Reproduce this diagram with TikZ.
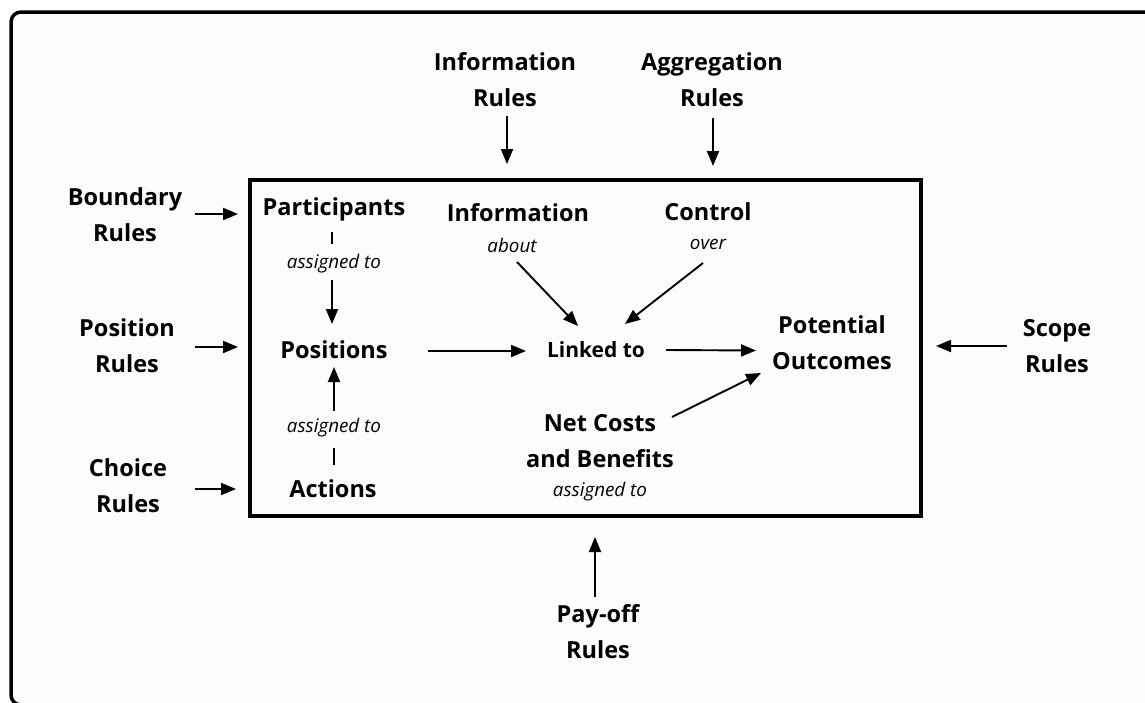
\documentclass[tikz,border=0pt]{standalone}
\usepackage{fontspec}
\setmainfont{Open Sans}
\usetikzlibrary{arrows.meta}
\definecolor{paper}{RGB}{253,251,251}
\tikzset{
  lbl/.style={font=\bfseries\fontsize{23.5}{36}\selectfont, align=center, inner sep=0pt},
  sub/.style={font=\itshape\fontsize{18.8}{22}\selectfont, inner sep=0pt},
  arr/.style={line width=1.9pt, -{Triangle[length=15pt,width=12pt]}},
  tick/.style={line width=1.9pt},
  frame/.style={line width=3.5pt, rounded corners=10pt},
  box/.style={line width=4pt}
}
\begin{document}
\begin{tikzpicture}[x=1pt,y=-1pt]
\useasboundingbox (0,0) rectangle (1145,702);
\clip (0,0) rectangle (1145,702);
\fill[white] (0,0) rectangle (1145,702);
\draw[frame, fill=paper] (11,12) rectangle (1175,705);
\draw[box] (249.5,179.5) rectangle (921,516);

% outer rule labels
\node[lbl] (inforules) at (505,80) {Information\\Rules};
\node[lbl] (aggrules) at (712,80) {Aggregation\\Rules};
\node[lbl] (boundary) at (125,215) {Boundary\\Rules};
\node[lbl] (position) at (127,346) {Position\\Rules};
\node[lbl] (choice) at (128,486) {Choice\\Rules};
\node[lbl] (scope) at (1057,346) {Scope\\Rules};
\node[lbl] (payoff) at (598,632) {Pay-off\\Rules};

% inner labels
\node[lbl] (participants) at (334,209) {Participants};
\node[sub] (asg1) at (334,264) {assigned to};
\node[lbl] (positions) at (334,350) {Positions};
\node[sub] (asg2) at (334,428) {assigned to};
\node[lbl] (actions) at (333,489) {Actions};
\node[lbl] (information) at (518,213) {Information};
\node[sub] (about) at (512,245) {about};
\node[lbl] (control) at (708,212) {Control};
\node[sub] (over) at (708,244) {over};
\node[lbl, font=\bfseries\fontsize{21}{26}\selectfont] (linked) at (596,350) {Linked to};
\node[lbl] (potential) at (832,343) {Potential\\Outcomes};
\node[lbl] (netcosts) at (600,441) {Net Costs\\and Benefits};
\node[sub] (asg3) at (600,492) {assigned to};

% connector end points
\coordinate (ir1) at (507,116); \coordinate (ir2) at (507,164);
\coordinate (ar1) at (713,118); \coordinate (ar2) at (713,166);
\coordinate (b1) at (195,214); \coordinate (b2) at (238,214);
\coordinate (p1) at (195,347); \coordinate (p2) at (238,347);
\coordinate (c1) at (195,489); \coordinate (c2) at (236,489);
\coordinate (s1) at (1007,346); \coordinate (s2) at (936,346);
\coordinate (y1) at (595,597); \coordinate (y2) at (595,537);
\coordinate (t1a) at (332,232); \coordinate (t1b) at (332,244);
\coordinate (a1a) at (332,280); \coordinate (a1b) at (332,324);
\coordinate (t2a) at (334,448); \coordinate (t2b) at (334,465);
\coordinate (a2a) at (334,411); \coordinate (a2b) at (334,367);
\coordinate (pl1) at (428,351); \coordinate (pl2) at (526,351);
\coordinate (il1) at (517,262); \coordinate (il2) at (578,326);
\coordinate (cl1) at (703,263); \coordinate (cl2) at (625,324);
\coordinate (lp1) at (666,350); \coordinate (lp2) at (756,350.5);
\coordinate (np1) at (672,417); \coordinate (np2) at (761,373);

\draw[arr] (ir1) -- (ir2);
\draw[arr] (ar1) -- (ar2);
\draw[arr] (b1) -- (b2);
\draw[arr] (p1) -- (p2);
\draw[arr] (c1) -- (c2);
\draw[arr] (s1) -- (s2);
\draw[arr] (y1) -- (y2);
\draw[tick] (t1a) -- (t1b);
\draw[arr] (a1a) -- (a1b);
\draw[tick] (t2a) -- (t2b);
\draw[arr] (a2a) -- (a2b);
\draw[arr] (pl1) -- (pl2);
\draw[arr] (il1) -- (il2);
\draw[arr] (cl1) -- (cl2);
\draw[arr] (lp1) -- (lp2);
\draw[arr] (np1) -- (np2);
\end{tikzpicture}
\end{document}
